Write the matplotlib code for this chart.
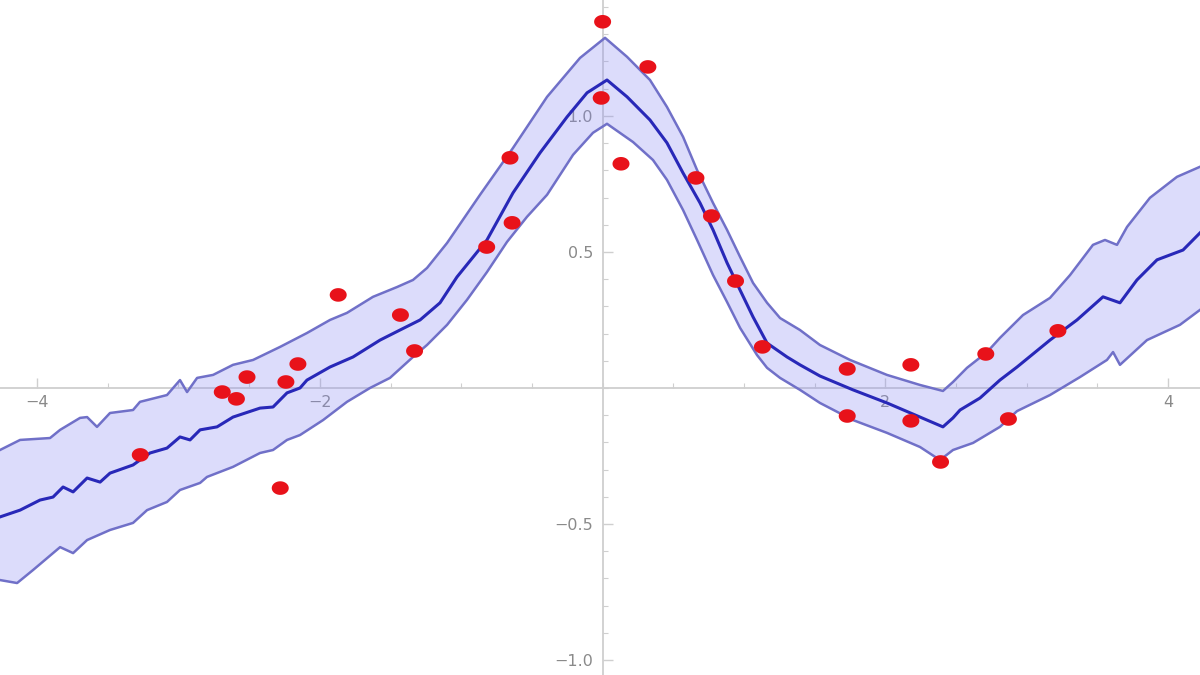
import numpy as np
import matplotlib
matplotlib.use('Agg')
import matplotlib.pyplot as plt
from matplotlib.ticker import FixedLocator, MultipleLocator, FuncFormatter

# observed data points
pts_x = [0.000, 0.32, -0.01, 0.13, -0.655, -0.64, -0.82, 0.66, 0.77, 0.94, 1.13,
         -1.87, -1.43, -1.33, -2.155, -2.24, -2.515, -2.69, -2.59, -3.27, -2.28,
         1.73, 1.73, 2.18, 2.18, 2.39, 2.71, 2.87, 3.22]
pts_y = [1.346, 1.18, 1.066, 0.824, 0.846, 0.607, 0.518, 0.772, 0.632, 0.393, 0.151,
         0.342, 0.268, 0.136, 0.088, 0.022, 0.04, -0.015, -0.04, -0.246, -0.368,
         0.07, -0.103, 0.085, -0.121, -0.272, 0.125, -0.114, 0.21]

# mean prediction
mean_x = [-4.262, -4.120, -3.979, -3.887, -3.816, -3.745, -3.646, -3.554, -3.484, -3.321,
          -3.201, -3.081, -2.989, -2.918, -2.847, -2.727, -2.614, -2.423, -2.331, -2.232,
          -2.140, -2.091, -1.928, -1.765, -1.574, -1.433, -1.291, -1.150, -1.030, -0.818,
          -0.634, -0.443, -0.252, -0.110, 0.031, 0.173, 0.335, 0.455, 0.569, 0.689,
          0.781, 0.880, 0.972, 1.064, 1.163, 1.304, 1.396, 1.537, 1.771, 2.011,
          2.245, 2.407, 2.478, 2.528, 2.669, 2.810, 2.931, 3.164, 3.355, 3.539,
          3.659, 3.779, 3.921, 4.105, 4.225]
mean_y = [-0.474, -0.449, -0.412, -0.401, -0.364, -0.382, -0.331, -0.346, -0.313, -0.283,
          -0.239, -0.221, -0.180, -0.191, -0.154, -0.143, -0.107, -0.074, -0.070, -0.018,
          0.000, 0.029, 0.077, 0.114, 0.176, 0.213, 0.250, 0.313, 0.408, 0.544,
          0.717, 0.864, 0.996, 1.085, 1.132, 1.070, 0.985, 0.901, 0.790, 0.680,
          0.581, 0.460, 0.360, 0.261, 0.165, 0.114, 0.085, 0.044, -0.007, -0.055,
          -0.107, -0.143, -0.110, -0.081, -0.037, 0.029, 0.077, 0.176, 0.250, 0.335,
          0.313, 0.397, 0.471, 0.507, 0.570]

# upper edge of band
upper_x = [-4.262, -4.120, -3.908, -3.837, -3.696, -3.646, -3.576, -3.484, -3.321, -3.272,
           -3.081, -2.989, -2.939, -2.868, -2.755, -2.614, -2.472, -2.281, -2.091, -1.928,
           -1.808, -1.624, -1.454, -1.341, -1.242, -1.100, -0.867, -0.634, -0.393, -0.160,
           0.017, 0.173, 0.335, 0.455, 0.569, 0.668, 0.781, 0.880, 0.972, 1.064,
           1.163, 1.255, 1.396, 1.537, 1.750, 2.011, 2.245, 2.407, 2.478, 2.577,
           2.719, 2.810, 2.973, 3.164, 3.306, 3.468, 3.553, 3.638, 3.709, 3.871,
           4.062, 4.225]
upper_y = [-0.228, -0.191, -0.184, -0.154, -0.110, -0.107, -0.143, -0.092, -0.081, -0.051,
           -0.026, 0.029, -0.015, 0.037, 0.048, 0.085, 0.103, 0.151, 0.202, 0.250,
           0.276, 0.335, 0.371, 0.397, 0.441, 0.533, 0.710, 0.882, 1.070, 1.213,
           1.287, 1.217, 1.132, 1.033, 0.923, 0.801, 0.680, 0.581, 0.482, 0.386,
           0.313, 0.257, 0.213, 0.158, 0.103, 0.048, 0.011, -0.011, 0.022, 0.074,
           0.132, 0.184, 0.268, 0.331, 0.415, 0.526, 0.544, 0.526, 0.592, 0.699,
           0.776, 0.813]

# lower edge of band
lower_x = [-4.262, -4.141, -4.028, -3.837, -3.745, -3.646, -3.484, -3.321, -3.222, -3.081,
           -2.989, -2.847, -2.798, -2.614, -2.423, -2.331, -2.232, -2.140, -1.977, -1.808,
           -1.645, -1.504, -1.341, -1.242, -1.100, -0.959, -0.818, -0.676, -0.535, -0.393,
           -0.209, -0.068, 0.031, 0.215, 0.356, 0.455, 0.569, 0.668, 0.781, 0.880,
           0.972, 1.092, 1.163, 1.255, 1.396, 1.537, 1.771, 2.011, 2.245, 2.386,
           2.478, 2.620, 2.810, 2.931, 3.164, 3.376, 3.567, 3.610, 3.659, 3.850,
           4.083, 4.225]
lower_y = [-0.706, -0.717, -0.669, -0.585, -0.607, -0.559, -0.522, -0.496, -0.449, -0.419,
           -0.375, -0.349, -0.327, -0.290, -0.239, -0.228, -0.191, -0.173, -0.118, -0.051,
           0.000, 0.037, 0.114, 0.158, 0.232, 0.324, 0.426, 0.537, 0.629, 0.710,
           0.857, 0.938, 0.971, 0.904, 0.838, 0.765, 0.654, 0.544, 0.415, 0.316,
           0.221, 0.121, 0.074, 0.037, -0.007, -0.055, -0.118, -0.165, -0.217, -0.265,
           -0.228, -0.202, -0.143, -0.085, -0.026, 0.040, 0.103, 0.132, 0.085, 0.176,
           0.232, 0.287]

xticks = [-4, -2, 2, 4]
yticks = [-1.0, -0.5, 0.5, 1.0]

fig = plt.figure(figsize=(12, 6.75), dpi=100)
ax = fig.add_axes([0, 0, 1, 1])
ax.set_xlim(-4.262, 4.225)
ax.set_ylim(-1.055, 1.426)

# slightly wide oval marker for the points
t = np.linspace(0, 2 * np.pi, 40)
oval = np.column_stack([np.cos(t), 0.8 * np.sin(t)])

# band
band_x = np.concatenate([upper_x, lower_x[::-1]])
band_y = np.concatenate([upper_y, lower_y[::-1]])
ax.fill(band_x, band_y, color=(0.55, 0.55, 0.95), alpha=0.3, lw=0, zorder=2)
ax.plot(upper_x, upper_y, color='#7070c8', lw=1.8, zorder=3)
ax.plot(lower_x, lower_y, color='#7070c8', lw=1.8, zorder=3)
ax.plot(mean_x, mean_y, color='#2828b8', lw=2.2, zorder=4)
ax.scatter(pts_x, pts_y, s=150, marker=oval, color='#e8121a', edgecolors='none', zorder=5)

# axes through origin
for s in ['top', 'right']:
    ax.spines[s].set_visible(False)
ax.spines['left'].set_position(('data', 0))
ax.spines['bottom'].set_position(('data', 0))
for s in ['left', 'bottom']:
    ax.spines[s].set_color('#cfcfcf')
    ax.spines[s].set_linewidth(1.3)
    ax.spines[s].set_zorder(0.5)
ax.set_axisbelow(True)

ax.xaxis.set_major_locator(FixedLocator(xticks))
ax.yaxis.set_major_locator(FixedLocator(yticks))
ax.xaxis.set_minor_locator(MultipleLocator(0.5))
ax.yaxis.set_minor_locator(MultipleLocator(0.1))
ax.yaxis.set_major_formatter(FuncFormatter(lambda v, p: f'{v:.1f}'.replace('-', '\u2212')))
ax.tick_params(which='both', direction='in', color='#cfcfcf', labelcolor='#8a8a8a',
               labelsize=11.5)
ax.tick_params(which='major', length=7, width=1)
ax.tick_params(which='minor', length=3.5, width=0.8)
ax.tick_params(axis='x', pad=5)
ax.tick_params(axis='y', pad=7)

fig.savefig('out.png', dpi=100)
